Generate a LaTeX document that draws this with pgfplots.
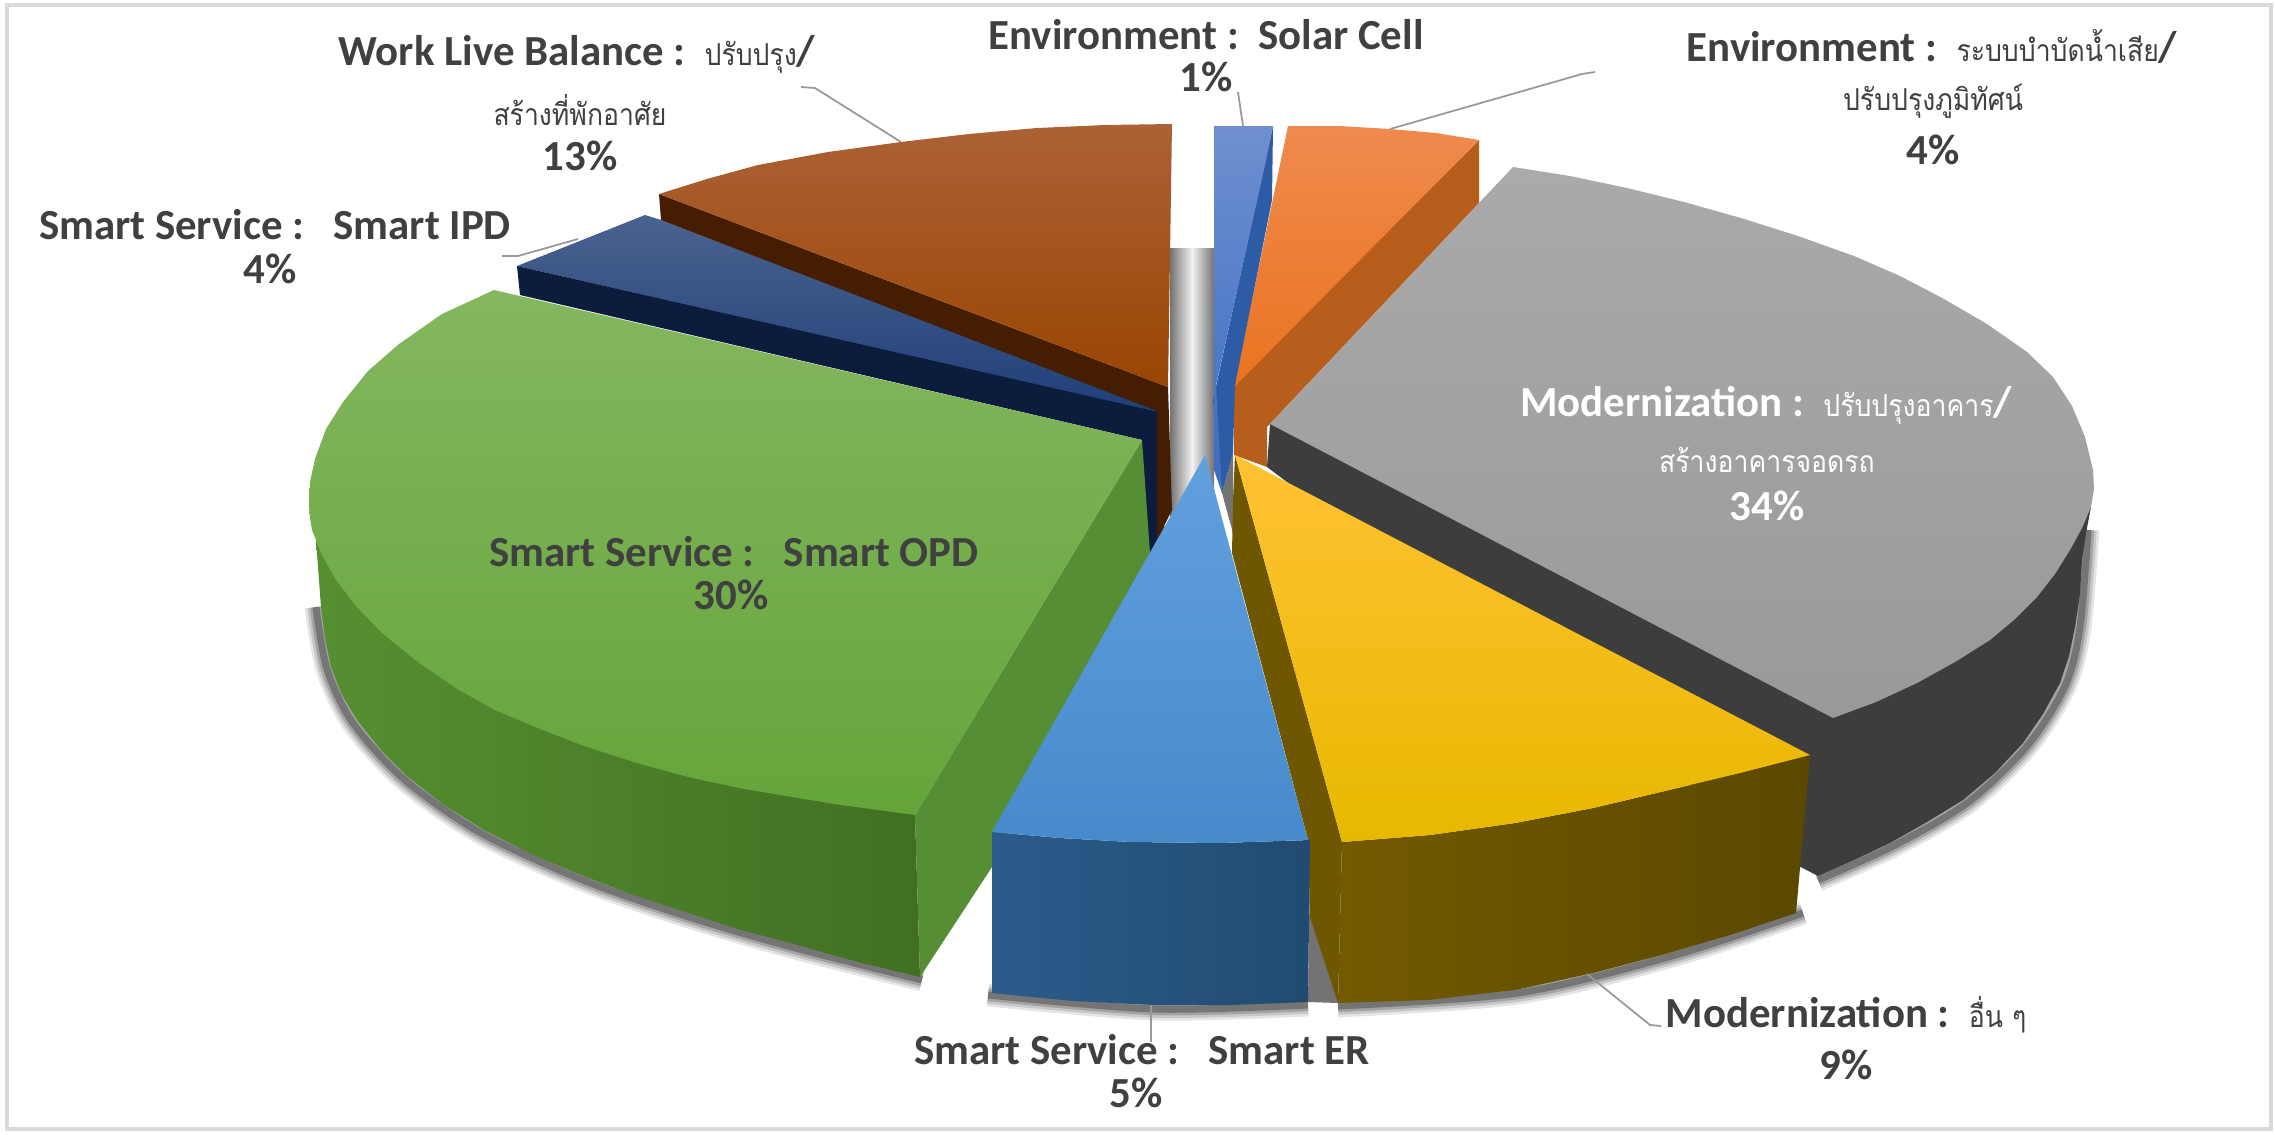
\documentclass[border=0pt]{standalone}
\usepackage{fontspec}
\usepackage{graphicx}
\usepackage{pgfplots}
\pgfplotsset{compat=1.18}
\setmainfont{Carlito}
\newfontfamily\thaifont[Script=Thai]{Loma}
\definecolor{lab}{HTML}{404040}
\definecolor{navytop}{HTML}{4A628F}\definecolor{navybot}{HTML}{1F3F78}\definecolor{navyside}{HTML}{0B1C3C}
\definecolor{greenin}{HTML}{558E34}\definecolor{greenl}{HTML}{568F31}\definecolor{greenr}{HTML}{416F22}
\definecolor{greent}{HTML}{84B75F}\definecolor{greenb}{HTML}{64A53A}
\definecolor{browns}{HTML}{451D00}\definecolor{brownt}{HTML}{AC6236}\definecolor{brownb}{HTML}{9A4402}
\definecolor{orangeS}{HTML}{B85E1C}\definecolor{oranget}{HTML}{EF8A4E}\definecolor{orangeb}{HTML}{EA7420}
\definecolor{solars}{HTML}{2E5BA6}\definecolor{solart}{HTML}{6F8FD0}\definecolor{solarb}{HTML}{3A6CC0}
\definecolor{greys}{HTML}{3D3D3D}\definecolor{greyt}{HTML}{AAAAAA}\definecolor{greyb}{HTML}{999999}
\definecolor{yell}{HTML}{735A00}\definecolor{yelr}{HTML}{5B4800}\definecolor{yeli}{HTML}{6E5700}
\definecolor{yelt}{HTML}{FFC233}\definecolor{yelm}{HTML}{FFC000}\definecolor{yelb}{HTML}{E8B800}
\definecolor{erl}{HTML}{2B5C8C}\definecolor{err}{HTML}{214B70}\definecolor{ert}{HTML}{62A0DE}\definecolor{erb}{HTML}{478ACB}
\newcommand{\lb}[3]{\node[text=lab,font=\fontsize{12.2}{15}\selectfont\bfseries,inner sep=0pt] at (axis cs:#1,#2) {#3};}
\newcommand{\lw}[3]{\node[text=white,font=\fontsize{12.2}{15}\selectfont\bfseries,inner sep=0pt] at (axis cs:#1,#2) {#3};}
\newcommand{\thx}[1]{\scalebox{0.88}[1]{\thaifont\fontsize{8.6}{10}\selectfont\mdseries #1}}
\newcommand{\shad}[2]{%
\addplot[smooth,draw=black,opacity=#2,line width=#1pt] coordinates {(2088,530)(2080,627)(2065,686)(2027,746)(1967,803)(1893,846)(1818,880)};
\addplot[smooth,draw=black,opacity=#2,line width=#1pt] coordinates {(1803,913)(1672,956)(1518,993)(1338,1006)};
\addplot[smooth,draw=black,opacity=#2,line width=#1pt] coordinates {(988,995)(1154,1009)(1308,1005)};
\addplot[smooth,draw=black,opacity=#2,line width=#1pt] coordinates {(316,607)(327,669)(353,723)(405,780)(481,833)(583,880)(686,916)(788,946)(922,980)};
}
\begin{document}
\begin{tikzpicture}
\begin{axis}[scale only axis,width=22.75cm,height=11.34cm,xmin=0,xmax=2275,ymin=0,ymax=1134,y dir=reverse,hide axis,clip=false]
% frame
\addplot[draw=none,fill=white] coordinates {(0,0)(2275,0)(2275,1134)(0,1134)} --cycle;
\addplot[draw=black!15,line width=1.2pt] coordinates {(7,5)(2271,5)(2271,1129)(7,1129)} --cycle;

% soft shadows under outer walls
\shad{6.5}{0.1}
\shad{5}{0.13}
\shad{3.5}{0.18}
\shad{2}{0.28}
% gap between ER and yellow
\addplot[draw=none,fill=black!55] coordinates {(1310,860)(1338,1003)(1308,1002)} --cycle;

% centre cylinder
\addplot[draw=none,shade,left color=black!55,right color=black!55,middle color=black!5] coordinates {(1170,248)(1214,248)(1214,500)(1170,530)} --cycle;
\addplot[draw=none,fill=black!55] coordinates {(1233,453)(1233,533)(1222,493)} --cycle;

% navy slice
\addplot[draw=none,shade,top color=navytop,bottom color=navybot] coordinates {(645,215)(517,266)(1158,413)(1158,410)(661,220)} --cycle;
\addplot[draw=none,fill=navyside] coordinates {(517,266)(520,295)(1142,440)(1143,565)(1165,540)(1158,412)} --cycle;
% green inner wall
\addplot[draw=none,fill=greenin] coordinates {(1142,440)(1150,553)(1110,660)(1030,790)(992,867)(920,977)(915,815)} --cycle;
% green outer wall
\addplot[draw=none,shade,left color=greenl,right color=greenr] coordinates {(316,540)(321,607)(325,638)(331,667)(342,695)(357,720)(381,750)(408,777)(444,805)(484,830)(533,855)(586,877)(636,896)(688,913)(738,929)(790,943)(854,961)(920,977)(915,815)(500,600)} --cycle;
% green top
\addplot[draw=none,shade,top color=greent,bottom color=greenb] coordinates {(494,290)(1142,440)(915,815)(878,810)(841,805)(792,797)(739,788)(688,777)(637,763)(584,746)(535,727)(495,710)(459,690)(419,663)(382,633)(356,606)(336,580)(322,555)(312,530)(310,518)(309,505)(310,482)(315,459)(326,429)(343,402)(368,371)(399,344)(442,314)} --cycle;

% brown slice
\addplot[draw=none,fill=browns] coordinates {(659,194)(661,220)(1157,411)(1157,540)(1172,510)(1168,387)} --cycle;
\addplot[draw=none,shade,top color=brownt,bottom color=brownb] coordinates {(659,194)(707,179)(758,165)(828,152)(901,142)(969,134)(1037,128)(1105,125)(1172,124)(1168,387)} --cycle;

% orange
\addplot[draw=none,fill=orangeS] coordinates {(1479,140)(1479,203)(1267,427)(1267,467)(1234,455)(1234,385)} --cycle;
\addplot[draw=none,shade,top color=oranget,bottom color=orangeb] coordinates {(1288,126)(1339,126)(1390,129)(1436,133)(1479,140)(1234,387)} --cycle;

% solar
\addplot[draw=none,fill=solars] coordinates {(1273,126)(1272,200)(1235,385)(1233,453)(1222,493)(1213,400)} --cycle;
\addplot[draw=none,shade,top color=solart,bottom color=solarb] coordinates {(1214,126)(1273,126)(1265,165)(1216,385)(1222,493)(1214,470)} --cycle;

% grey slice
\addplot[draw=none,fill=greys] coordinates {(1270,424)(1267,467)(1793,863)(1818,876)(1854,860)(1890,843)(1927,822)(1963,800)(1995,773)(2023,743)(2043,714)(2060,683)(2069,656)(2075,627)(2080,594)(2082,560)(2086,533)(2091,507)(1833,500)} --cycle;
\addplot[draw=none,shade,top color=greyt,bottom color=greyb] coordinates {(1270,424)(1513,167)(1570,176)(1627,188)(1684,202)(1741,218)(1798,236)(1854,256)(1900,276)(1944,299)(1987,324)(2027,352)(2053,377)(2072,406)(2085,437)(2093,470)(2094,489)(2091,507)(2082,528)(2070,550)(2055,574)(2037,597)(2015,619)(1990,640)(1955,662)(1917,683)(1876,702)(1833,718)} --cycle;

% yellow
\addplot[draw=none,shade,left color=yell,right color=yelr] coordinates {(1342,842)(1430,835)(1515,823)(1593,808)(1669,790)(1740,773)(1810,755)(1796,913)(1733,934)(1669,953)(1593,973)(1515,990)(1428,1000)(1338,1003)} --cycle;
\addplot[draw=none,fill=yeli] coordinates {(1235,455)(1342,842)(1338,1003)(1310,917)(1308,840)(1232,553)(1233,500)} --cycle;
\addplot[draw=none,shade,top color=yelt,middle color=yelm,bottom color=yelb] coordinates {(1235,455)(1810,755)(1740,773)(1669,790)(1593,808)(1515,823)(1430,835)(1342,842)} --cycle;

% light blue
\addplot[draw=none,shade,left color=erl,right color=err] coordinates {(992,832)(992,993)(1073,1001)(1154,1005)(1232,1005)(1308,1002)(1310,840)(1220,843)(1131,842)(1060,838)} --cycle;
\addplot[draw=none,shade,top color=ert,bottom color=erb] coordinates {(1205,455)(1308,840)(1220,843)(1131,842)(1060,838)(992,832)} --cycle;

% leaders
\addplot[draw=black!40,line width=0.5pt] coordinates {(1238,92)(1243,126)};
\addplot[draw=black!40,line width=0.5pt] coordinates {(1595,72)(1582,74)(1390,129)};
\addplot[draw=black!40,line width=0.5pt] coordinates {(801,87)(815,88)(901,142)};
\addplot[draw=black!40,line width=0.5pt] coordinates {(502,256)(518,256)(578,239)};
\addplot[draw=black!40,line width=0.5pt] coordinates {(1151,1005)(1151,1042)};
\addplot[draw=black!40,line width=0.5pt] coordinates {(1587,974)(1650,1025)(1661,1026)};

% labels
\lb{1206}{35}{Environment :\ \ Solar Cell}
\lb{1206}{77}{1\%}
\lb{1932}{46}{Environment :\ \ \thx{ระบบบำบัดน้ำเสีย}/}
\lb{1933}{101}{\thx{ปรับปรุงภูมิทัศน์}}
\lb{1933}{150}{4\%}
\lb{577}{54}{Work Live Balance :\ \ \thx{ปรับปรุง}/}
\lb{580}{110}{\thx{สร้างที่พักอาศัย}}
\lb{580}{156}{13\%}
\lb{275}{225}{Smart Service :\ \ \ Smart IPD}
\lb{270}{269}{4\%}
\lw{1766}{405}{Modernization :\ \ \thx{ปรับปรุงอาคาร}/}
\lw{1767}{460}{\thx{สร้างอาคารจอดรถ}}
\lw{1767}{506}{34\%}
\lb{734}{552}{Smart Service :\ \ \ Smart OPD}
\lb{731}{595}{30\%}
\lb{1142}{1050}{Smart Service :\ \ \ Smart ER}
\lb{1136}{1093}{5\%}
\lb{1846}{1015}{Modernization :\ \ \thx{อื่น ๆ}}
\lb{1846}{1065}{9\%}
\end{axis}
\end{tikzpicture}
\end{document}
